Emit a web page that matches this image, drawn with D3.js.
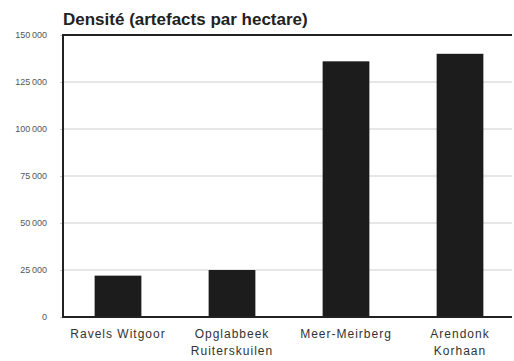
<!DOCTYPE html>
<html>
<head>
<meta charset="utf-8">
<script src="https://cdn.jsdelivr.net/npm/d3@7"></script>
<style>
  html, body { margin: 0; padding: 0; background: #fff; }
  svg { display: block; }
</style>
</head>
<body>
<svg id="chart" width="514" height="361"></svg>
<script>
// Site names (each entry is split over lines for the axis labels)
const sites = [
  ["Ravels Witgoor"],
  ["Opglabbeek", "Ruiterskuilen"],
  ["Meer-Meirberg"],
  ["Arendonk", "Korhaan"]
];
// Artefact density per hectare
const density = [22000, 25000, 136000, 140000];
// Vertical axis ticks
const yTicks = [0, 25000, 50000, 75000, 100000, 125000, 150000];
const titleText = "Densité (artefacts par hectare)";

const svg = d3.select("#chart");
const plotLeft = 63, plotRight = 512, plotTop = 35, plotBottom = 317;

const keys = sites.map(s => s.join(" "));
const x = d3.scaleBand()
  .domain(keys)
  .range([61, 517])
  .paddingInner(0.59)
  .paddingOuter(0.295);

const y = d3.scaleLinear().domain([0, 150000]).range([plotBottom, plotTop]);

const fmt = v => v === 0 ? "0" : d3.format(",")(v).replace(/,/g, "\u2009");

// light grid lines
svg.append("g")
  .selectAll("line")
  .data(yTicks.filter(t => t > 0 && t < 150000))
  .join("line")
  .attr("x1", plotLeft).attr("x2", plotRight)
  .attr("y1", d => y(d)).attr("y2", d => y(d))
  .attr("stroke", "#cfcfcf")
  .attr("stroke-width", 1);

// bars
svg.append("g")
  .selectAll("rect")
  .data(density)
  .join("rect")
  .attr("x", (d, i) => x(keys[i]))
  .attr("width", x.bandwidth())
  .attr("y", d => y(d))
  .attr("height", d => y(0) - y(d))
  .attr("fill", "#1c1c1c");

// y axis labels
const yAxis = d3.axisLeft(y).tickValues(yTicks).tickFormat(fmt).tickSize(3).tickPadding(13);
const gy = svg.append("g").attr("transform", `translate(${plotLeft},0)`).call(yAxis);
gy.select(".domain").remove();
gy.selectAll(".tick line").attr("stroke", "#ccc");
gy.selectAll(".tick text")
  .attr("font-family", "'Liberation Sans', Arial, sans-serif")
  .attr("font-size", 9)
  .attr("fill", "#555");

// frame: top, left and bottom lines
svg.append("line").attr("x1", plotLeft).attr("x2", plotRight).attr("y1", plotTop).attr("y2", plotTop)
  .attr("stroke", "#222").attr("stroke-width", 2);
svg.append("line").attr("x1", plotLeft).attr("x2", plotLeft).attr("y1", plotTop - 1).attr("y2", plotBottom + 1)
  .attr("stroke", "#222").attr("stroke-width", 2);
svg.append("line").attr("x1", plotLeft - 1).attr("x2", plotRight).attr("y1", plotBottom).attr("y2", plotBottom)
  .attr("stroke", "#222").attr("stroke-width", 2);

// x axis labels
const xAxis = d3.axisBottom(x).tickSize(0).tickPadding(0).tickFormat(() => "");
const gx = svg.append("g").attr("transform", `translate(0,${plotBottom})`).call(xAxis);
gx.select(".domain").remove();
gx.selectAll(".tick").each(function (d, i) {
  const t = d3.select(this).append("text")
    .attr("text-anchor", "middle")
    .attr("font-family", "'Liberation Sans', Arial, sans-serif")
    .attr("font-size", 12)
    .attr("letter-spacing", "1px")
    .attr("fill", "#333");
  sites[i].forEach((line, j) => {
    t.append("tspan").attr("x", 0).attr("y", 21 + j * 17).text(line);
  });
});

// title
svg.append("text")
  .attr("x", plotLeft).attr("y", 25)
  .attr("font-family", "'Liberation Sans', Arial, sans-serif")
  .attr("font-weight", "bold")
  .attr("font-size", 17)
  .attr("fill", "#222")
  .text(titleText);
</script>
</body>
</html>
